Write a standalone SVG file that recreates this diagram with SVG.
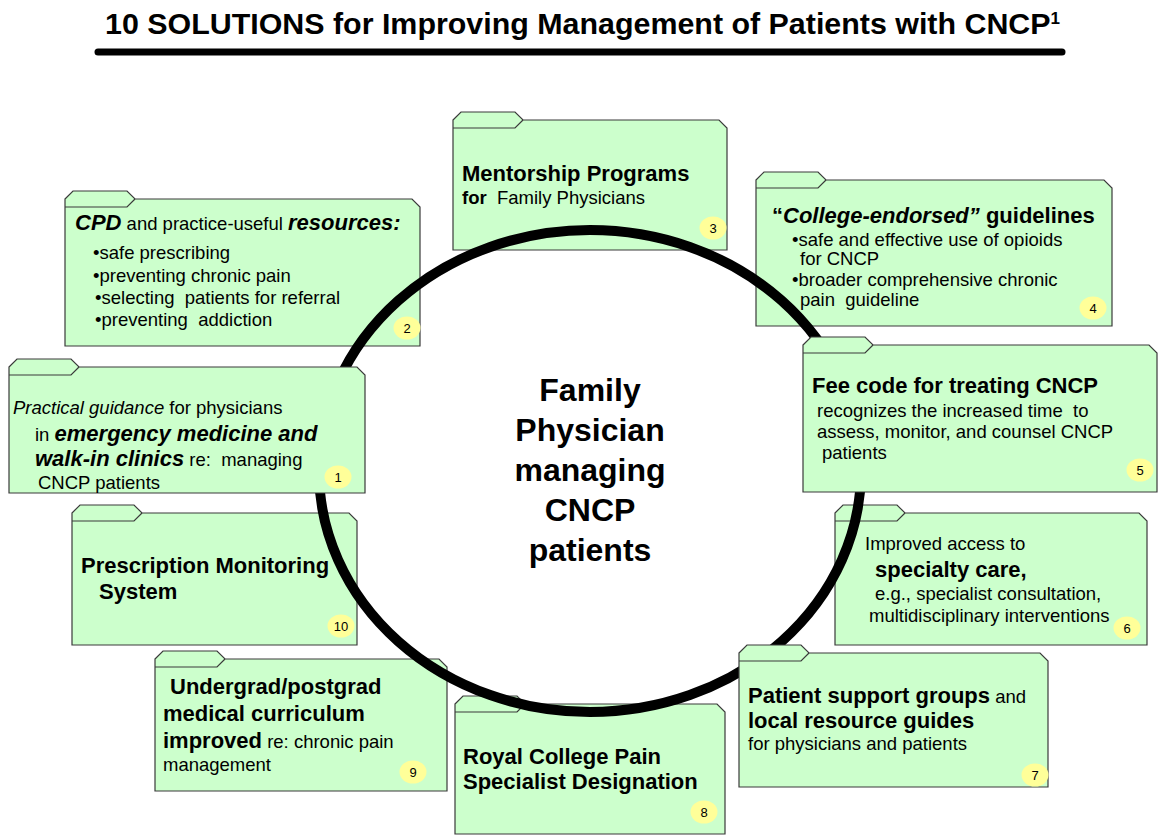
<svg xmlns="http://www.w3.org/2000/svg" width="1159" height="838" viewBox="0 0 1159 838">
<style>
.f{fill:#CCFFCC;stroke:#3a3a3a;stroke-width:1.2}
text{font-family:"Liberation Sans",Arial,sans-serif;fill:#000}
.h{font-size:22px;font-weight:bold}
.r{font-size:18.5px}
.bi{font-weight:bold;font-style:italic;font-size:22px}
.bd{font-weight:bold;font-size:22px}
.nc{fill:#FFFF99}
.nt{font-size:13px;text-anchor:middle}
.ctr{font-size:32px;font-weight:bold;text-anchor:middle}
</style>
<rect width="1159" height="838" fill="#fff"/>
<g id="title">
<text x="105" y="34" font-size="30.4" font-weight="bold">10 SOLUTIONS for Improving Management of Patients with CNCP<tspan font-size="17" dy="-10">1</tspan></text>
<line x1="98" y1="52" x2="1062" y2="52" stroke="#000" stroke-width="7" stroke-linecap="round"/>
</g>
<g id="node2">
<path class="f" d="M65,199 L73,191 H127 L135,199 H412 L420,207 V346 H65 Z M135,199 L127,207 H65"/>
<text x="75" y="230" class="r" xml:space="preserve"><tspan class="bi">CPD</tspan> and practice-useful <tspan class="bi">resources:</tspan></text>
<text x="93" y="259" class="r">•safe prescribing</text>
<text x="93" y="282" class="r">•preventing chronic pain</text>
<text x="95" y="304" class="r" xml:space="preserve">•selecting  patients for referral</text>
<text x="95" y="326" class="r" xml:space="preserve">•preventing  addiction</text>
<ellipse class="nc" cx="407" cy="328" rx="13.5" ry="11.5"/><text class="nt" x="407" y="332.5">2</text>
</g>
<g id="node3">
<path class="f" d="M453,120 L461,112 H515 L523,120 H719 L727,128 V250 H453 Z M523,120 L515,128 H453"/>
<text x="462" y="181" class="h">Mentorship Programs</text>
<text x="462" y="204" class="r" xml:space="preserve"><tspan font-weight="bold">for</tspan>  Family Physicians</text>
<ellipse class="nc" cx="713" cy="228" rx="13.5" ry="11.5"/><text class="nt" x="713" y="232.5">3</text>
</g>
<g id="node4">
<path class="f" d="M756,180 L764,172 H818 L826,180 H1104 L1112,188 V326 H756 Z M826,180 L818,188 H756"/>
<text x="772" y="223" class="h">“<tspan font-style="italic">College-endorsed”</tspan> guidelines</text>
<text x="792" y="246" class="r">•safe and effective use of opioids</text>
<text x="800" y="265" class="r">for CNCP</text>
<text x="792" y="286" class="r">•broader comprehensive chronic</text>
<text x="800" y="306" class="r" xml:space="preserve">pain  guideline</text>
<ellipse class="nc" cx="1093" cy="308" rx="13.5" ry="11.5"/><text class="nt" x="1093" y="312.5">4</text>
</g>
<g id="node6">
<path class="f" d="M835,513 L843,505 H897 L905,513 H1139 L1147,521 V645 H835 Z M905,513 L897,521 H835"/>
<text x="865" y="550" class="r">Improved access to</text>
<text x="875" y="577" class="h">specialty care,</text>
<text x="875" y="600" class="r">e.g., specialist consultation,</text>
<text x="869" y="622" class="r">multidisciplinary interventions</text>
<ellipse class="nc" cx="1127" cy="628" rx="13.5" ry="11.5"/><text class="nt" x="1127" y="632.5">6</text>
</g>
<g id="node8">
<path class="f" d="M455,704 L463,696 H517 L525,704 H717 L725,712 V834 H455 Z M525,704 L517,712 H455"/>
<text x="463" y="764" class="h">Royal College Pain</text>
<text x="463" y="789" class="h">Specialist Designation</text>
<ellipse class="nc" cx="704" cy="812" rx="13.5" ry="11.5"/><text class="nt" x="704" y="816.5">8</text>
</g>
<g id="node9">
<path class="f" d="M155,659 L163,651 H217 L225,659 H439 L447,667 V791 H155 Z M225,659 L217,667 H155"/>
<text x="170" y="694" class="h">Undergrad/postgrad</text>
<text x="163" y="721" class="h">medical curriculum</text>
<text x="163" y="748" class="r"><tspan class="bd">improved</tspan> re: chronic pain</text>
<text x="163" y="771" class="r">management</text>
<ellipse class="nc" cx="413" cy="772" rx="13.5" ry="11.5"/><text class="nt" x="413" y="776.5">9</text>
</g>
<g id="node10">
<path class="f" d="M72,513 L80,505 H134 L142,513 H349 L357,521 V645 H72 Z M142,513 L134,521 H72"/>
<text x="81" y="573" class="h">Prescription Monitoring</text>
<text x="99" y="599" class="h">System</text>
<ellipse class="nc" cx="341" cy="626" rx="13.5" ry="11.5"/><text class="nt" x="341" y="630.5">10</text>
</g>
<g id="connectors">
<ellipse cx="590" cy="471" rx="271" ry="241" fill="none" stroke="#000" stroke-width="10"/>
</g>
<g id="node1">
<path class="f" d="M9,367 L17,359 H71 L79,367 H357 L365,375 V493 H9 Z M79,367 L71,375 H9"/>
<text x="13" y="414" class="r"><tspan font-style="italic">Practical guidance</tspan> for physicians</text>
<text x="35" y="441" class="r" xml:space="preserve">in <tspan class="bi">emergency medicine and</tspan></text>
<text x="35" y="466" class="r" xml:space="preserve"><tspan class="bi">walk-in clinics</tspan> re:  managing</text>
<text x="38" y="489" class="r">CNCP patients</text>
<ellipse class="nc" cx="338" cy="477" rx="13.5" ry="11.5"/><text class="nt" x="338" y="481.5">1</text>
</g>
<g id="node5">
<path class="f" d="M803,345 L811,337 H865 L873,345 H1149 L1157,353 V492 H803 Z M873,345 L865,353 H803"/>
<text x="812" y="393" class="h">Fee code for treating CNCP</text>
<text x="817" y="417" class="r" xml:space="preserve">recognizes the increased time  to</text>
<text x="817" y="438" class="r">assess, monitor, and counsel CNCP</text>
<text x="822" y="459" class="r">patients</text>
<ellipse class="nc" cx="1140" cy="470" rx="13.5" ry="11.5"/><text class="nt" x="1140" y="474.5">5</text>
</g>
<g id="node7">
<path class="f" d="M739,653 L747,645 H801 L809,653 H1040 L1048,661 V787 H739 Z M809,653 L801,661 H739"/>
<text x="748" y="703" class="r"><tspan class="bd">Patient support groups</tspan> and</text>
<text x="748" y="728" class="h">local resource guides</text>
<text x="748" y="750" class="r">for physicians and patients</text>
<ellipse class="nc" cx="1035" cy="775" rx="13.5" ry="11.5"/><text class="nt" x="1035" y="779.5">7</text>
</g>
<g id="center">
<text class="ctr" x="590" y="401">Family</text>
<text class="ctr" x="590" y="441">Physician</text>
<text class="ctr" x="590" y="481">managing</text>
<text class="ctr" x="590" y="521">CNCP</text>
<text class="ctr" x="590" y="561">patients</text>
</g>
</svg>
